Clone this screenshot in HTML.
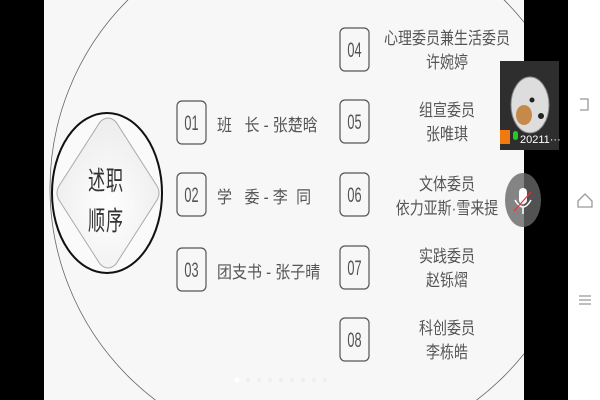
<!DOCTYPE html>
<html><head><meta charset="utf-8"><style>
html,body{margin:0;padding:0;width:600px;height:400px;overflow:hidden;background:#fff}
svg{display:block}
svg text{font-family:"Liberation Sans","Noto Sans CJK SC",sans-serif;fill:#555}
</style></head><body>
<svg width="600" height="400" viewBox="0 0 600 400" xmlns="http://www.w3.org/2000/svg">
<defs>
<radialGradient id="g" cx="0.5" cy="0.6" r="0.6"><stop offset="0" stop-color="#fff"/><stop offset="1" stop-color="#ececec"/></radialGradient>
<clipPath id="slide"><rect x="44" y="0" width="480" height="400"/></clipPath>
</defs>
<rect x="0" y="0" width="44" height="400" fill="#000"/>
<rect x="44" y="0" width="480" height="400" fill="#f7f7f7"/>
<rect x="524" y="0" width="44" height="400" fill="#000"/>
<rect x="568" y="0" width="32" height="400" fill="#fff"/>
<g clip-path="url(#slide)">
<circle cx="316" cy="188" r="266" fill="none" stroke="#666" stroke-width="0.8"/>
</g>
<ellipse cx="107" cy="193" rx="55" ry="80" fill="#fafafa" stroke="#111" stroke-width="2"/>
<path d="M100,122 Q108,114 116,122 L157,186 Q161,193 157,200 L116,264 Q108,272 100,264 L59,200 Q55,193 59,186 Z" fill="url(#g)" stroke="#aaa" stroke-width="1"/>
<g transform="translate(106,190) scale(0.95,1.5)"><text x="0" y="0" font-size="18" text-anchor="middle" style="fill:#333;letter-spacing:1px">述职</text></g>
<g transform="translate(106,230) scale(0.95,1.5)"><text x="0" y="0" font-size="18" text-anchor="middle" style="fill:#333;letter-spacing:1px">顺序</text></g>
<g fill="none" stroke="#555" stroke-width="1.2">
<rect x="177" y="101" width="29" height="43" rx="5"/>
<rect x="177" y="173" width="29" height="43" rx="5"/>
<rect x="177" y="248" width="29" height="43" rx="5"/>
<rect x="340" y="28" width="29" height="43" rx="5"/>
<rect x="340" y="100" width="29" height="43" rx="5"/>
<rect x="340" y="173" width="29" height="43" rx="5"/>
<rect x="340" y="246" width="29" height="43" rx="5"/>
<rect x="340" y="318" width="29" height="43" rx="5"/>
</g>
<g font-size="15" text-anchor="middle">
<g transform="translate(191.5,130) scale(0.85,1.4)"><text>01</text></g>
<g transform="translate(191.5,202) scale(0.85,1.4)"><text>02</text></g>
<g transform="translate(191.5,277) scale(0.85,1.4)"><text>03</text></g>
<g transform="translate(354.5,57) scale(0.85,1.4)"><text>04</text></g>
<g transform="translate(354.5,129) scale(0.85,1.4)"><text>05</text></g>
<g transform="translate(354.5,202) scale(0.85,1.4)"><text>06</text></g>
<g transform="translate(354.5,275) scale(0.85,1.4)"><text>07</text></g>
<g transform="translate(354.5,347) scale(0.85,1.4)"><text>08</text></g>
</g>
<g font-size="15">
<g transform="translate(217,131) scale(1,1.15)"><text xml:space="preserve">班   长 - 张楚晗</text></g>
<g transform="translate(217,203) scale(1,1.15)"><text xml:space="preserve">学   委 - 李  同</text></g>
<g transform="translate(217,278) scale(1,1.15)"><text>团支书 - 张子晴</text></g>
</g>
<g font-size="14" text-anchor="middle">
<g transform="translate(447,44) scale(1,1.2)"><text>心理委员兼生活委员</text></g>
<g transform="translate(447,68) scale(1,1.2)"><text>许婉婷</text></g>
<g transform="translate(447,116) scale(1,1.2)"><text>组宣委员</text></g>
<g transform="translate(447,140) scale(1,1.2)"><text>张唯琪</text></g>
<g transform="translate(447,190) scale(1,1.2)"><text>文体委员</text></g>
<g transform="translate(447,214) scale(1,1.2)"><text>依力亚斯·雪来提</text></g>
<g transform="translate(447,262) scale(1,1.2)"><text>实践委员</text></g>
<g transform="translate(447,286) scale(1,1.2)"><text>赵铄熠</text></g>
<g transform="translate(447,334) scale(1,1.2)"><text>科创委员</text></g>
<g transform="translate(447,358) scale(1,1.2)"><text>李栋皓</text></g>
</g>
<g>
<circle cx="237" cy="380" r="2.5" fill="#fff"/><circle cx="248" cy="380" r="2" fill="#eee"/><circle cx="259" cy="380" r="2" fill="#eee"/><circle cx="270" cy="380" r="2" fill="#eee"/><circle cx="281" cy="380" r="2" fill="#eee"/><circle cx="292" cy="380" r="2" fill="#eee"/><circle cx="303" cy="380" r="2" fill="#eee"/><circle cx="314" cy="380" r="2" fill="#eee"/><circle cx="325" cy="380" r="2" fill="#eee"/>
</g>
<rect x="500" y="61" width="59" height="89" fill="#2e2e2e"/>
<ellipse cx="530" cy="105" rx="19" ry="28" fill="#ddd" stroke="#888"/>
<ellipse cx="524" cy="115" rx="8" ry="10" fill="#c58a4a"/>
<circle cx="532" cy="100" r="2.5" fill="#222"/><circle cx="541" cy="116" r="3" fill="#222"/>
<rect x="500" y="130" width="10" height="14" fill="#f07a10"/>
<rect x="513" y="131" width="5" height="9" rx="2.5" fill="#2c2"/>
<text x="520" y="143" font-size="11" style="fill:#fff">20211···</text>
<ellipse cx="523" cy="200" rx="18" ry="27" fill="#666" opacity="0.8"/>
<rect x="519" y="188" width="8" height="16" rx="4" fill="#fff"/>
<path d="M515,200 Q523,214 531,200 M523,207 V214" stroke="#fff" fill="none" stroke-width="1.5"/>
<line x1="514" y1="211" x2="531" y2="192" stroke="#e33" stroke-width="1.2"/>
<g stroke="#999" stroke-width="1.3" fill="none">
<path d="M580,99 H588 V110 H580"/>
<path d="M578,201 L585,194 L592,201 V207 H578 Z"/>
<path d="M579,296 H591 M579,300 H591 M579,304 H591"/>
</g>
</svg>
</body></html>
